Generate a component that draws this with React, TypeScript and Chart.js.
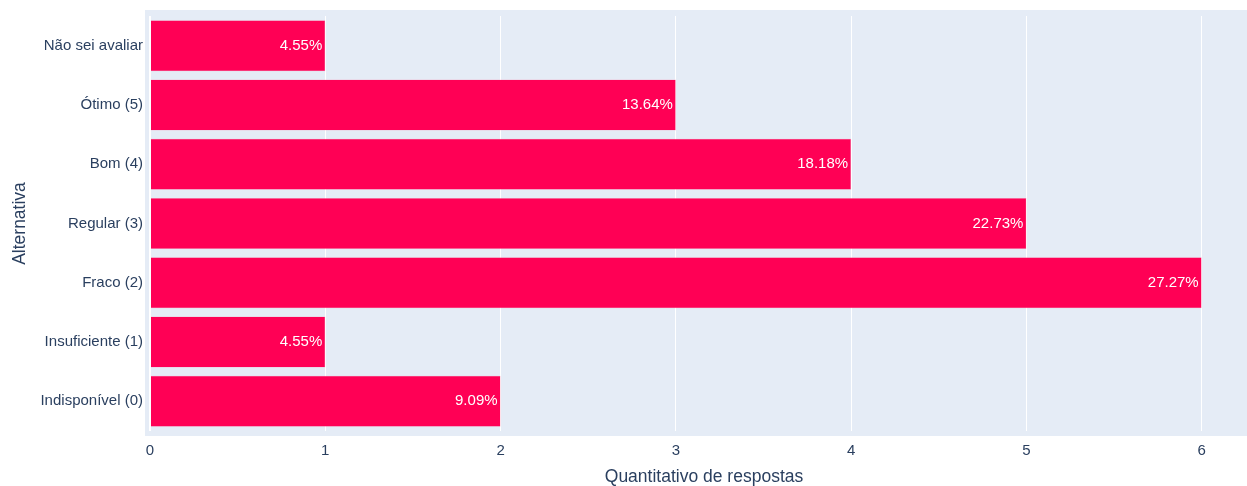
import React, { useEffect, useRef } from "react";
import { Chart, registerables } from "chart.js";

Chart.register(...registerables);

const categories = [
  "Não sei avaliar",
  "Ótimo (5)",
  "Bom (4)",
  "Regular (3)",
  "Fraco (2)",
  "Insuficiente (1)",
  "Indisponível (0)",
];
const counts = [1, 3, 4, 5, 6, 1, 2];
const percentLabels = ["4.55%", "13.64%", "18.18%", "22.73%", "27.27%", "4.55%", "9.09%"];
const xTicks = [0, 1, 2, 3, 4, 5, 6];
const xTitle = "Quantitativo de respostas";

const FONT = '"Liberation Sans", Arial, sans-serif';
const TEXT = "#2a3f5f";
const BG = "#E5ECF6";
const BAR = "#FF0055";

const bgPlugin = {
  id: "plotBg",
  beforeDraw(chart: any) {
    const { ctx, chartArea } = chart;
    ctx.save();
    ctx.fillStyle = BG;
    ctx.fillRect(chartArea.left - 5, chartArea.top - 6, chartArea.right - chartArea.left + 10, chartArea.bottom - chartArea.top + 11);
    ctx.restore();
  },
};

const labelPlugin = {
  id: "barLabels",
  afterDatasetsDraw(chart: any) {
    const { ctx, chartArea } = chart;
    const meta = chart.getDatasetMeta(0);
    ctx.save();
    ctx.font = `15px ${FONT}`;
    ctx.fillStyle = "#ffffff";
    ctx.textAlign = "right";
    ctx.textBaseline = "middle";
    meta.data.forEach((el: any, i: number) => {
      ctx.fillText(percentLabels[i], el.x - 3, el.y);
    });
    // x axis title, centred like the reference (slightly right of plot centre)
    ctx.font = `17.5px ${FONT}`;
    ctx.fillStyle = TEXT;
    ctx.textAlign = "center";
    ctx.fillText(xTitle, (chartArea.left + chartArea.right) / 2 + 8, chart.height - 9);
    ctx.restore();
  },
};

export default function App() {
  const ref = useRef<HTMLCanvasElement | null>(null);
  useEffect(() => {
    if (!ref.current) return;
    const chart = new Chart(ref.current, {
      type: "bar",
      data: {
        labels: categories,
        datasets: [
          {
            data: counts,
            backgroundColor: BAR,
            borderColor: "rgba(255,120,160,0.6)",
            borderWidth: 0.5,
            barPercentage: 0.86,
            categoryPercentage: 1,
          },
        ],
      },
      options: {
        indexAxis: "y",
        animation: false,
        responsive: false,
        maintainAspectRatio: false,
        layout: { padding: { top: 16, right: 5, bottom: 0, left: 0 } },
        plugins: { legend: { display: false }, tooltip: { enabled: false } },
        scales: {
          x: {
            type: "linear",
            min: 0,
            max: 6.23,
            afterBuildTicks(scale: any) {
              scale.ticks = xTicks.map((v) => ({ value: v }));
            },
            afterFit(scale: any) {
              scale.height = 55;
            },
            grid: {
              color: "#ffffff",
              lineWidth: (c: any) => (c.tick && c.tick.value === 0 ? 2 : 1),
              drawTicks: false,
            },
            border: { display: false },
            ticks: {
              color: TEXT,
              font: { family: FONT, size: 15 },
              padding: 10.5,
              callback: (v: any) => String(v),
            },
            title: { display: false },
          },
          y: {
            type: "category",
            afterFit(scale: any) {
              scale.width = 150;
            },
            grid: { display: false, drawTicks: false },
            border: { display: false },
            ticks: {
              color: TEXT,
              font: { family: FONT, size: 15 },
              padding: 7,
            },
            title: {
              display: true,
              text: "Alternativa",
              color: TEXT,
              font: { family: FONT, size: 17.5 },
              padding: { top: 10, bottom: 0 },
            },
          },
        },
      },
      plugins: [bgPlugin, labelPlugin],
    } as any);
    return () => chart.destroy();
  }, []);
  return (
    <div style={{ position: "absolute", left: 0, top: 0, width: 1247, height: 486, background: "#fff" }}>
      <canvas ref={ref} width={1247} height={486} style={{ width: 1247, height: 486 }} />
    </div>
  );
}
